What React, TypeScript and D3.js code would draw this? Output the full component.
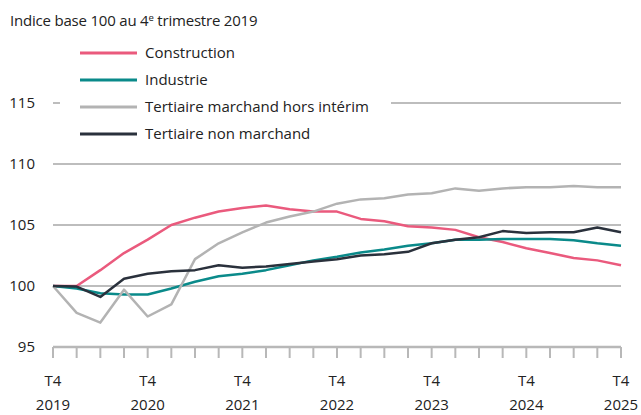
import React from "react";
import * as d3 from "d3";

const quarters = d3.range(0, 25);
const construction = [100, 100, 101.3, 102.7, 103.8, 105.0, 105.6, 106.1, 106.4, 106.6, 106.3, 106.1, 106.1, 105.5, 105.3, 104.9, 104.8, 104.6, 104.0, 103.6, 103.1, 102.7, 102.3, 102.1, 101.7];
const industrie = [100, 99.8, 99.4, 99.3, 99.3, 99.8, 100.35, 100.8, 101.0, 101.3, 101.7, 102.1, 102.4, 102.75, 103.0, 103.3, 103.5, 103.8, 103.8, 103.85, 103.85, 103.85, 103.75, 103.5, 103.3];
const tertMarchand = [100, 97.8, 97.0, 99.7, 97.5, 98.5, 102.2, 103.5, 104.4, 105.2, 105.7, 106.1, 106.75, 107.1, 107.2, 107.5, 107.6, 108.0, 107.8, 108.0, 108.1, 108.1, 108.2, 108.1, 108.1];
const tertNonMarchand = [100, 99.95, 99.1, 100.6, 101.0, 101.2, 101.3, 101.7, 101.5, 101.6, 101.8, 102.0, 102.2, 102.5, 102.6, 102.8, 103.5, 103.8, 104.0, 104.5, 104.35, 104.4, 104.4, 104.8, 104.4];
const seriesNames = ["Construction", "Industrie", "Tertiaire marchand hors intérim", "Tertiaire non marchand"];
const seriesColors = ["#ea5a7d", "#0a8a8a", "#b3b3b3", "#2a313c"];
const yTicks = [95, 100, 105, 110, 115];
const xLabelQuarters = [0, 4, 8, 12, 16, 20, 24];
const xLabelYears = ["2019", "2020", "2021", "2022", "2023", "2024", "2025"];
const title = "Indice base 100 au 4";

export default function App() {
  const W = 641, H = 415;
  const x = d3.scaleLinear().domain([0, 24]).range([53, 621]);
  const y = d3.scaleLinear().domain([95, 115]).range([347, 103]);
  const allSeries = [construction, industrie, tertMarchand, tertNonMarchand];
  const line = d3.line<number>().x((_, i) => x(i)).y((d) => y(d));
  const font = "'Open Sans', sans-serif";
  const fs = 15;
  return (
    <svg width={W} height={H} style={{ position: "absolute", left: 0, top: 0, background: "#fff" }} fontFamily={font}>
      <text x={10} y={26} fontSize={fs} fill="#222" letterSpacing={-0.2}>
        {title}
        <tspan fontSize={9.5} dy={-5}>e</tspan>
        <tspan dy={5}> trimestre 2019</tspan>
      </text>
      {yTicks.filter((t) => t > 95).map((t) => (
        <line key={t} x1={x(0)} x2={x(24)} y1={y(t)} y2={y(t)} stroke="#bdbdbd" strokeWidth={2} />
      ))}
      {yTicks.map((t) => (
        <text key={"l" + t} x={35} y={y(t)} dy="0.35em" textAnchor="end" fontSize={fs} fill="#222">{t}</text>
      ))}
      <line x1={x(0)} x2={x(24)} y1={y(95)} y2={y(95)} stroke="#b8b8b8" strokeWidth={2.5} />
      {quarters.map((q) => (
        <line key={"t" + q} x1={x(q)} x2={x(q)} y1={y(95)} y2={y(95) + 11} stroke="#b8b8b8" strokeWidth={2} />
      ))}
      {xLabelQuarters.map((q, i) => (
        <g key={"xl" + q}>
          <text x={x(q)} y={381} dy="0.35em" textAnchor="middle" fontSize={fs} fill="#222">T4</text>
          <text x={x(q)} y={405} dy="0.35em" textAnchor="middle" fontSize={fs} fill="#222">{xLabelYears[i]}</text>
        </g>
      ))}
      <rect x={60} y={40} width={331} height={106} fill="#fff" />
      {allSeries.map((s, i) => (
        <path key={"s" + i} d={line(s) || ""} fill="none" stroke={seriesColors[i]} strokeWidth={2.5} strokeLinejoin="round" />
      ))}
      {seriesNames.map((n, i) => (
        <g key={"lg" + i}>
          <line x1={80} x2={137} y1={53 + i * 27} y2={53 + i * 27} stroke={seriesColors[i]} strokeWidth={3} />
          <text x={145} y={53 + i * 27} dy="0.35em" fontSize={fs} fill="#222">{n}</text>
        </g>
      ))}
    </svg>
  );
}
